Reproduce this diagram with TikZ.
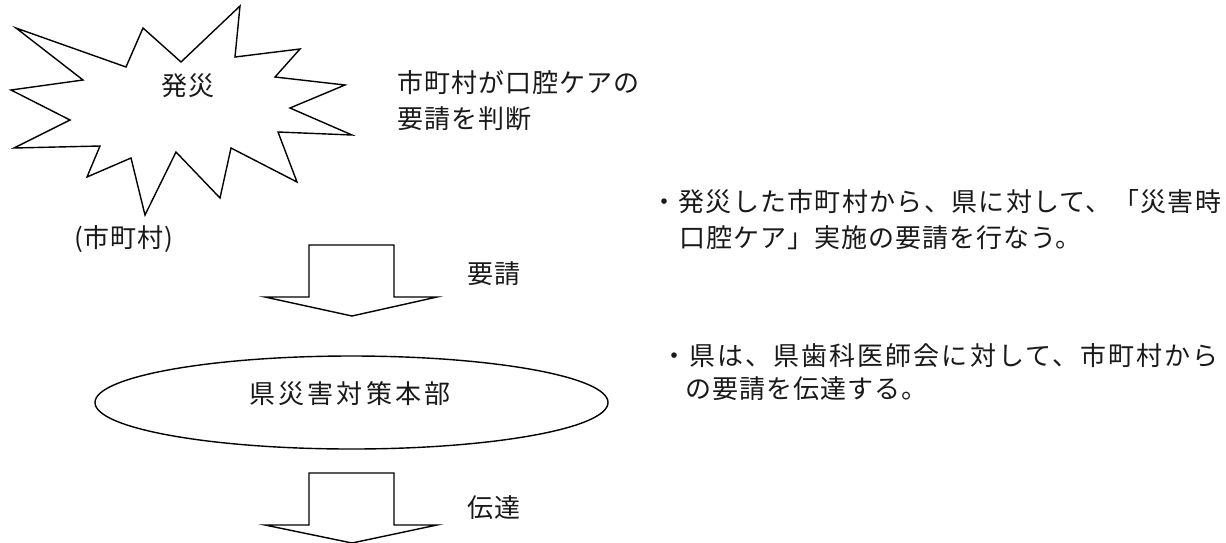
\documentclass[tikz,border=0pt]{standalone}
\usepackage{fontspec}
\newfontfamily\jpfam{Noto Sans CJK JP}
\usetikzlibrary{shapes.geometric}
\newcommand{\jpls}[1]{\jpfam\fontsize{26}{31}\selectfont\addfontfeature{LetterSpace=#1}}
\begin{document}
\begin{tikzpicture}[x=1pt,y=-1pt,
  outline/.style={draw=black, line width=1.4pt, line join=miter, fill=white},
  txt/.style={inner sep=0pt, anchor=base west, text=black!90, font=\jpls{3.8}},
  ctxt/.style={txt, anchor=base},
  hqshape/.style={draw=black, line width=1.4pt, ellipse, minimum width=513pt, minimum height=93pt, inner sep=0pt}]
\useasboundingbox (0,0) rectangle (1226,542);
\fill[white] (0,0) rectangle (1226,542);

% explosion (starburst)
\draw[outline] (16,28) -- (126,67) -- (143,28) -- (181,62) -- (240,6) -- (235,57)
  -- (300,49) -- (275,77) -- (345,85) -- (290,108) -- (352,135) -- (278,132)
  -- (297,182) -- (231,148) -- (220,198) -- (176,152) -- (145,215) -- (131,158)
  -- (87,177) -- (100,146) -- (14,148) -- (70,120) -- (11,90) -- (83,80) -- cycle;
\node[ctxt] (hassai) at (188,95) {発災};
\node[ctxt] (shichoson) at (124,247) {(市町村)};

\node[txt] (judge1) at (397,92) {市町村が口腔ケアの};
\node[txt] (judge2) at (397,128) {要請を判断};

% block arrow 1
\draw[outline] (309,245) -- (394,245) -- (394,297) -- (437,297) -- (352,316)
  -- (265,297) -- (309,297) -- cycle;
\node[txt] (req) at (467,283) {要請};

% headquarters
\node[hqshape] (hq) at (351.5,402.5) {};
\node[ctxt, font=\jpls{12.7}] (hqt) at (350,403) {県災害対策本部};

% block arrow 2
\draw[outline] (309,473) -- (394,473) -- (394,525) -- (437,525) -- (352,543)
  -- (265,525) -- (309,525) -- cycle;
\node[txt] (trans) at (467,517) {伝達};

% explanations
\node[txt, font=\jpls{5}] (b1a) at (651,211) {・発災した市町村から、県に対して、「災害時};
\node[txt] (b1b) at (679,247) {口腔ケア」実施の要請を行なう。};
\node[txt, font=\jpls{8}] (b2a) at (661,365) {・県は、県歯科医師会に対して、市町村から};
\node[txt] (b2b) at (685,398) {の要請を伝達する。};
\end{tikzpicture}
\end{document}
